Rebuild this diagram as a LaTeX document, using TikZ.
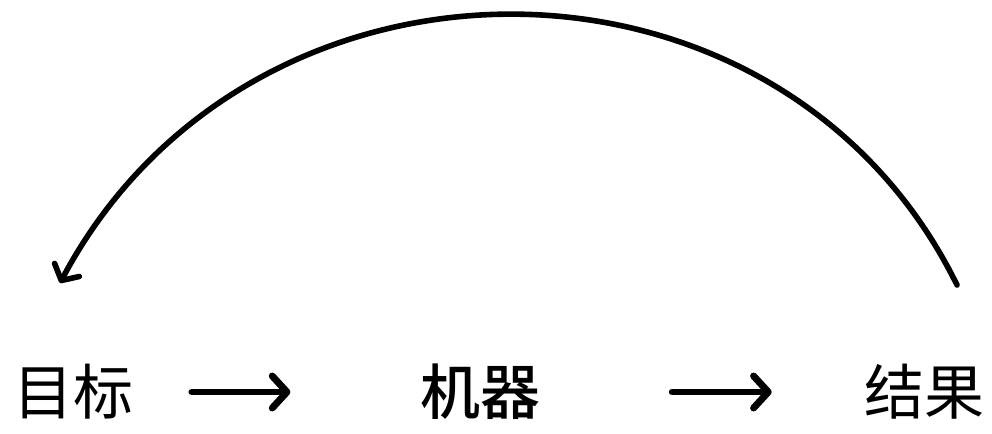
\documentclass[tikz,border=0pt]{standalone}
\usepackage{fontspec}
\usetikzlibrary{arrows.meta}
\newfontfamily\cjk{Noto Sans CJK SC}
\newfontfamily\cjkmid{Noto Sans CJK SC Medium}

\tikzset{
  word/.style={inner sep=0pt, font=\cjk\fontsize{45}{50}\selectfont},
  flowarrow/.style={line width=5.2pt, line cap=round,
    -{Straight Barb[length=11pt,width=24pt,line cap=round,line join=round]}},
  backarc/.style={line width=4.2pt, line cap=round,
    -{Straight Barb[length=9pt,width=21pt,line cap=round,line join=round]}}
}

\begin{document}
\begin{tikzpicture}[x=0.75pt,y=-0.75pt]
        \useasboundingbox (0,0) rectangle (992,433);
        \node[word] (goal) at (73,392) {目标};
        \node[word, font=\cjkmid\fontsize{45}{50}\selectfont] (machine) at (480,392) {机器};
        \node[word] (result) at (924,392) {结果};
        \draw[flowarrow, shorten <=44pt, shorten >=97pt] (goal) -- (machine);
        \draw[flowarrow, shorten <=99pt, shorten >=69pt] (machine) -- (result);
        \coordinate (arcstart) at (957,285);
        \coordinate (arcend) at (60,283);
        \draw[backarc] (arcstart) .. controls (780,-75) and (250,-75) .. (arcend);
      \end{tikzpicture}
\end{document}
